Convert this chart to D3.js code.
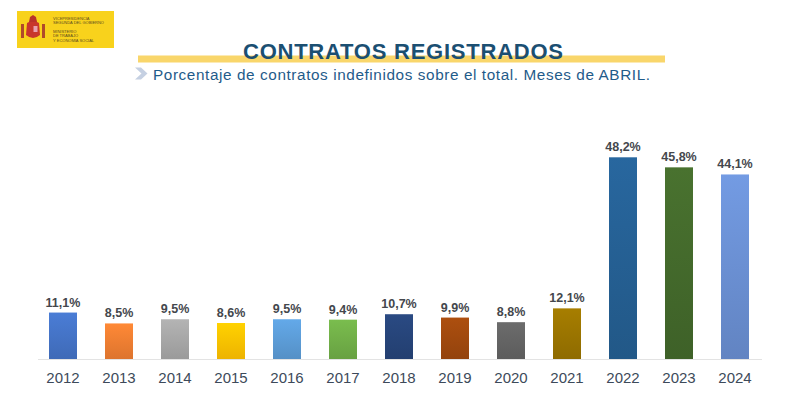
<!DOCTYPE html>
<html>
<head>
<meta charset="utf-8">
<script src="https://cdn.jsdelivr.net/npm/d3@7"></script>
<style>
  body { margin: 0; background: #fff; }
  svg { display: block; font-family: "Liberation Sans", Arial, sans-serif; }
</style>
</head>
<body>
<script>
// data
const years = ['2012', '2013', '2014', '2015', '2016', '2017', '2018', '2019', '2020', '2021', '2022', '2023', '2024'];
const values = [11.1, 8.5, 9.5, 8.6, 9.5, 9.4, 10.7, 9.9, 8.8, 12.1, 48.2, 45.8, 44.1];
const barColors = ['#4472c4', '#ed7d31', '#a5a5a5', '#ffc000', '#5b9bd5', '#70ad47',
  '#264478', '#9e480e', '#636363', '#997300', '#255e91', '#43682b', '#698ed0'];

const title = 'CONTRATOS REGISTRADOS';
const subtitle = 'Porcentaje de contratos indefinidos sobre el total. Meses de ABRIL.';

const W = 799, H = 401;
const baseY = 359;

const svg = d3.select('body').append('svg')
  .attr('width', W)
  .attr('height', H);

const defs = svg.append('defs');

// scales
const x = d3.scaleBand().domain(years).range([35, 763]).paddingInner(0.5).paddingOuter(0.25);
const y = d3.scaleLinear().domain([0, 48.2]).range([baseY, 157.3]);

// logo
const logo = svg.append('g');
logo.append('rect').attr('x', 17).attr('y', 11).attr('width', 97).attr('height', 37).attr('fill', '#f8d21c');
logo.append('path')
  .attr('d', 'M27,23 Q33,19 39,23 L40,35 Q33,41 26,35 Z')
  .attr('fill', '#c8362c');
logo.append('path')
  .attr('d', 'M29,22 L30,17 L33,15 L36,17 L37,22 Z')
  .attr('fill', '#b8322a');
logo.append('rect').attr('x', 21).attr('y', 24).attr('width', 3).attr('height', 14).attr('fill', '#b04a2a');
logo.append('rect').attr('x', 42).attr('y', 24).attr('width', 3).attr('height', 14).attr('fill', '#b04a2a');
logo.append('rect').attr('x', 33.5).attr('y', 26).attr('width', 4).attr('height', 6).attr('fill', '#e8a0b0');
const logoText = ['VICEPRESIDENCIA', 'SEGUNDA DEL GOBIERNO', '', 'MINISTERIO', 'DE TRABAJO', 'Y ECONOMÍA SOCIAL'];
logo.selectAll('text.lt').data(logoText).enter().append('text')
  .attr('class', 'lt')
  .attr('x', 53)
  .attr('y', (d, i) => 20 + i * 4.3)
  .attr('font-size', 4)
  .attr('fill', '#5a4a20')
  .text(d => d);

// title band
svg.append('rect').attr('x', 138).attr('y', 55.5).attr('width', 527).attr('height', 7).attr('fill', '#f9d66b');
svg.append('text')
  .attr('x', 243).attr('y', 58.5)
  .attr('font-size', 22)
  .attr('font-weight', 'bold')
  .attr('fill', '#1b4f72')
  .attr('textLength', 320)
  .text(title);

// subtitle chevron
svg.append('path')
  .attr('d', 'M135,67.5 L141,67.5 L147.5,73.5 L141,79.5 L135,79.5 L141.5,73.5 Z')
  .attr('fill', '#c5d0e2');
svg.append('text')
  .attr('x', 153).attr('y', 80)
  .attr('font-size', 15.3)
  .attr('fill', '#1f5b8a')
  .attr('textLength', 497)
  .text(subtitle);

// gradients
barColors.forEach((c, i) => {
  const g = defs.append('linearGradient')
    .attr('id', 'grad' + i)
    .attr('x1', 0).attr('y1', 0).attr('x2', 0).attr('y2', 1);
  g.append('stop').attr('offset', '0%').attr('stop-color', d3.color(c).brighter(0.25));
  g.append('stop').attr('offset', '100%').attr('stop-color', d3.color(c).darker(0.2));
});

// baseline
svg.append('line')
  .attr('x1', 38).attr('x2', 762)
  .attr('y1', baseY + 0.5).attr('y2', baseY + 0.5)
  .attr('stroke', '#e3e3e3');

// bars
const bars = svg.selectAll('.bar')
  .data(years)
  .enter()
  .append('g');

bars.append('rect')
  .attr('x', d => x(d))
  .attr('width', x.bandwidth())
  .attr('y', (d, i) => y(values[i]))
  .attr('height', (d, i) => baseY - y(values[i]))
  .attr('fill', (d, i) => `url(#grad${i})`);

// value labels
bars.append('text')
  .attr('x', d => x(d) + x.bandwidth() / 2)
  .attr('y', (d, i) => y(values[i]) - 6)
  .attr('text-anchor', 'middle')
  .attr('font-size', 12.5)
  .attr('font-weight', 'bold')
  .attr('fill', '#44474d')
  .text((d, i) => values[i].toFixed(1).replace('.', ',') + '%');

// year labels
bars.append('text')
  .attr('x', d => x(d) + x.bandwidth() / 2)
  .attr('y', 383)
  .attr('text-anchor', 'middle')
  .attr('font-size', 15)
  .attr('fill', '#3d4a5a')
  .text(d => d);
</script>
</body>
</html>
